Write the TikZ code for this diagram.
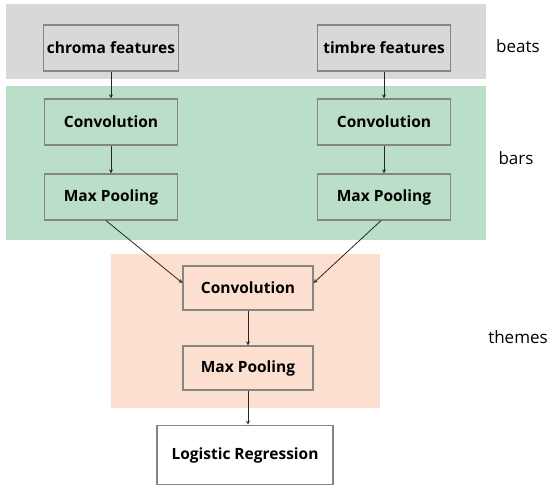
\documentclass[tikz,border=0pt]{standalone}
\usepackage{fontspec}
\setmainfont{Open Sans}
\definecolor{beatgray}{HTML}{D8D8D8}
\definecolor{bargreen}{HTML}{BBDEC8}
\definecolor{themepeach}{HTML}{FCDFCE}
\definecolor{boxgray}{HTML}{858585}
\begin{document}
\begin{tikzpicture}[x=1pt,y=-1pt,
    layer/.style={draw=boxgray, line width=1.2pt, minimum width=133pt, minimum height=46pt,
      font=\bfseries\fontsize{15.5}{18}\selectfont},
    level/.style={font=\fontsize{17}{20}\selectfont},
    flow/.style={->, line width=0.8pt, >=stealth, draw=black!85}]
    \useasboundingbox (0,0) rectangle (550,490);

    % bands
    \fill[beatgray] (6,4) rectangle (486,79);
    \fill[bargreen] (6,86) rectangle (486,240);
    \fill[themepeach] (111,254) rectangle (380,408);

    \node[level] (beats) at (518,46) {beats};
    \node[level] (bars) at (516,158) {bars};
    \node[level] (themes) at (518,337) {themes};

    % left column
    \node[layer] (chroma) at (111,48) {chroma features};
    \node[layer] (convl) at (111,122) {Convolution};
    \node[layer] (mpl) at (111,197) {Max Pooling};

    % right column
    \node[layer] (timbre) at (384,48) {timbre features};
    \node[layer] (convr) at (384,122) {Convolution};
    \node[layer] (mpr) at (384,197) {Max Pooling};

    % merged
    \node[layer, minimum width=130pt, minimum height=44pt] (conv) at (248,288) {Convolution};
    \node[layer, minimum width=130pt, minimum height=44pt] (mp) at (248,368) {Max Pooling};
    \node[layer, fill=white, line width=1.6pt, minimum width=176pt, minimum height=59pt] (logreg) at (245,455) {Logistic Regression};

    \draw[flow] (chroma) -- (convl);
    \draw[flow] (convl) -- (mpl);
    \draw[flow] (timbre) -- (convr);
    \draw[flow] (convr) -- (mpr);
    \draw[flow] ([xshift=-5pt]mpl.south) -- ([yshift=5pt]conv.west);
    \draw[flow] ([xshift=-3pt]mpr.south) -- ([yshift=5pt]conv.east);
    \draw[flow] (conv) -- (mp);
    \draw[flow] (mp.south) -- (mp.south |- logreg.north);
\end{tikzpicture}
\end{document}
